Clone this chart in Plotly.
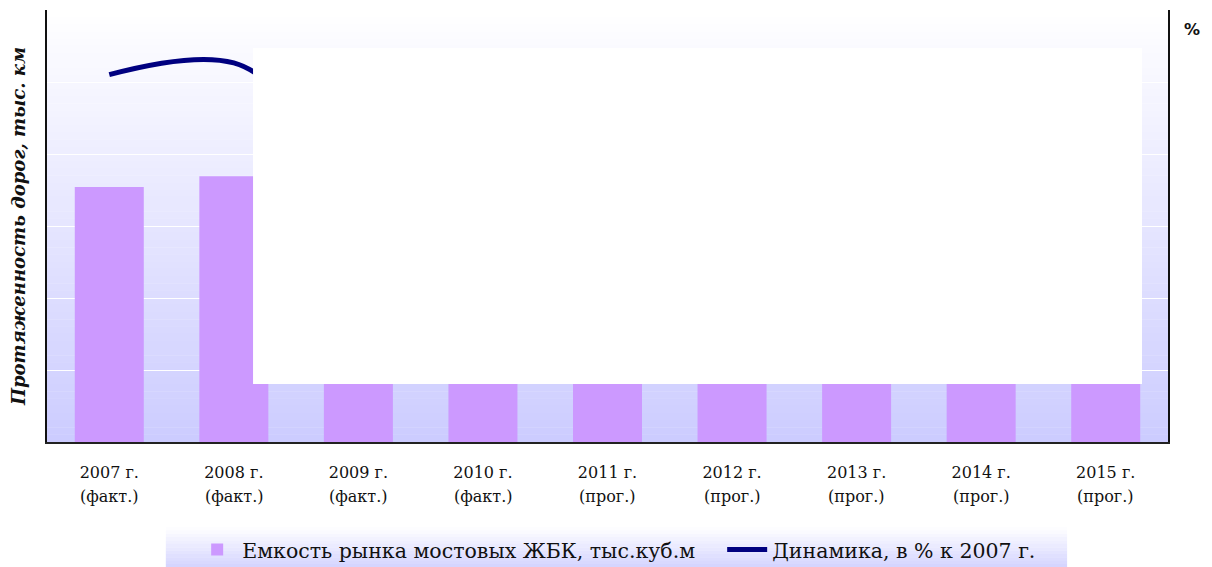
import plotly.graph_objects as go

# ---- data ----
years = ["2007 г.", "2008 г.", "2009 г.", "2010 г.", "2011 г.", "2012 г.", "2013 г.", "2014 г.", "2015 г."]
status = ["(факт.)", "(факт.)", "(факт.)", "(факт.)", "(прог.)", "(прог.)", "(прог.)", "(прог.)", "(прог.)"]
capacity = [354, 369, 280, 295, 310, 325, 340, 350, 360]
dynamics = [100.0, 103.2, 79.1, 83.3, 87.6, 91.8, 96.0, 98.9, 101.7]

bar_name = "Емкость рынка мостовых ЖБК, тыс.куб.м"
line_name = "Динамика, в % к 2007 г."
ytitle = "Протяженность дорог, тыс. км"

SERIF = "DejaVu Serif"

fig = go.Figure()
fig.add_trace(go.Bar(x=years, y=capacity, name=bar_name, marker_color="#cc99ff",
                     marker_line_width=0, yaxis="y"))
fig.add_trace(go.Scatter(x=years, y=dynamics, name=line_name, mode="lines",
                         line=dict(color="#000080", width=5, shape="spline", smoothing=1),
                         yaxis="y2"))

shapes = []
# gradient background of the plot area
N = 60
def mix(t):
    top = (255, 255, 255)
    bot = (204, 204, 255)
    return "rgb(%d,%d,%d)" % tuple(round(a + (b - a) * t) for a, b in zip(top, bot))
for i in range(N):
    shapes.append(dict(type="rect", xref="paper", yref="paper",
                       x0=0, x1=1, y0=1 - (i + 1) / N, y1=1 - i / N + 0.001,
                       fillcolor=mix((i + 0.5) / N), line_width=0, layer="below"))
# gradient background of the legend box
M = 12
ly0, ly1 = -0.197, -0.291
for i in range(M):
    a = ly0 + (ly1 - ly0) * i / M
    b = ly0 + (ly1 - ly0) * (i + 1) / M
    shapes.append(dict(type="rect", xref="paper", yref="paper",
                       x0=0.106, x1=0.910, y0=b, y1=a + 0.0005,
                       fillcolor=mix((i + 0.5) / M * 0.85), line_width=0, layer="below"))
# white occluding panel
shapes.append(dict(type="rect", xref="paper", yref="paper",
                   x0=0.1838, x1=0.9768, y0=0.1343, y1=0.912,
                   fillcolor="#ffffff", line_width=0, layer="above"))

annotations = [dict(x=y, y=-0.127, xref="x", yref="paper", text=s, showarrow=False,
                    font=dict(family=SERIF, size=16, color="#111111"), yanchor="middle")
               for y, s in zip(years, status)]
annotations.append(dict(x=1.0214, y=0.954, xref="paper", yref="paper", text="<b>%</b>",
                        showarrow=False, xanchor="center", yanchor="middle",
                        font=dict(family="DejaVu Sans", size=16, color="#111111")))

# the page has an 8px body margin, so the figure is shrunk by that amount
fig.update_layout(
    width=1204, height=559,
    margin=dict(l=39, r=44, t=2, b=125, autoexpand=False),
    paper_bgcolor="white", plot_bgcolor="rgba(0,0,0,0)",
    bargap=0.446,
    showlegend=True,
    legend=dict(orientation="h", x=0.1295, xanchor="left", y=-0.203, yanchor="top",
                bgcolor="rgba(0,0,0,0)", font=dict(family=SERIF, size=20.5, color="#111111"),
                itemwidth=40, traceorder="normal", entrywidth=475),
    xaxis=dict(type="category", showline=True, linecolor="#222222", linewidth=1.5,
               showgrid=False, ticks="", tickfont=dict(family=SERIF, size=16, color="#111111"),
               ticklabelstandoff=15, automargin=False),
    yaxis=dict(range=[0, 600], dtick=100, showgrid=True, gridcolor="white", gridwidth=1,
               showticklabels=False, showline=True, linecolor="#111111", linewidth=1.5,
               zeroline=False, ticks="", automargin=False,
               title=dict(text="<b><i>" + ytitle + "</i></b>", standoff=16,
                          font=dict(family=SERIF, size=18, color="#111111"))),
    yaxis2=dict(range=[0, 117.6], overlaying="y", side="right", showgrid=False,
                showticklabels=False, showline=True, linecolor="#111111", linewidth=1.5,
                zeroline=False, ticks="", automargin=False),
    shapes=shapes,
    annotations=annotations,
)

fig.write_html("out.html")
